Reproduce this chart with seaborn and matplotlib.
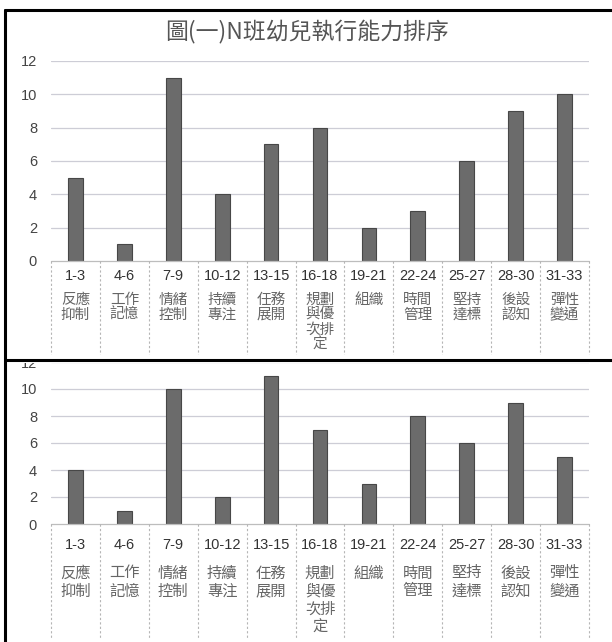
import matplotlib
matplotlib.use("Agg")
import matplotlib.pyplot as plt
from matplotlib.lines import Line2D
from matplotlib.patches import Rectangle
import matplotlib.transforms as mtransforms
import seaborn as sns
import pandas as pd

sns.set_theme(style="white")
plt.rcParams["font.family"] = ["Noto Sans CJK TC", "DejaVu Sans"]

# Categories (item ranges and ability names)
ranges = ["1-3", "4-6", "7-9", "10-12", "13-15", "16-18", "19-21",
          "22-24", "25-27", "28-30", "31-33"]
abilities = ["反應\n抑制", "工作\n記憶", "情緒\n控制", "持續\n專注", "任務\n展開",
             "規劃\n與優\n次排\n定", "組織", "時間\n管理", "堅持\n達標", "後設\n認知", "彈性\n變通"]

# Counts for the two charts
upper_counts = [5, 1, 11, 4, 7, 8, 2, 3, 6, 9, 10]
lower_counts = [4, 1, 10, 2, 11, 7, 3, 8, 6, 9, 5]
y_ticks = [0, 2, 4, 6, 8, 10, 12]

title = "圖(一)N班幼兒執行能力排序"

W, H = 612, 642
fig = plt.figure(figsize=(W / 100, H / 100), dpi=100)
fig.patch.set_facecolor("white")


def fx(px):
    return px / W


def fy(py):
    return 1 - py / H


def draw_chart(top_px, zero_px, table_bottom_px, counts, num_off, cn_off, cn_step,
               cn_size):
    left_px, right_px = 51, 589
    ax = fig.add_axes([fx(left_px), fy(zero_px), fx(right_px - left_px),
                       (zero_px - top_px) / H])
    df = pd.DataFrame({"range": ranges, "count": counts})
    sns.barplot(data=df, x="range", y="count", ax=ax, color="#6b6b6b",
                width=0.3, edgecolor="#474747", linewidth=0.8, saturation=1)
    ax.set_xlim(-0.5, len(ranges) - 0.5)
    ax.set_ylim(0, 12)
    ax.set_yticks(y_ticks)
    ax.set_yticklabels([str(t) for t in y_ticks], family=["Liberation Sans"],
                       fontsize=10.5, color="#444444")
    ax.tick_params(axis="y", length=0, pad=10)
    ax.set_xticks([])
    ax.set_xlabel("")
    ax.set_ylabel("")
    for s in ax.spines.values():
        s.set_visible(False)
    for t in y_ticks[1:]:
        ax.axhline(t, color="#cdcdd6", lw=0.9, zorder=0)

    # category table below the axis
    table_h = (table_bottom_px - zero_px) / (zero_px - top_px)
    trans = mtransforms.blended_transform_factory(ax.transData, ax.transAxes)
    ax.plot([-0.5, len(ranges) - 0.5], [0, 0], transform=trans, color="#bdbdbd",
            lw=0.9, clip_on=False)
    for i in range(len(ranges) + 1):
        ax.plot([i - 0.5, i - 0.5], [0, -table_h], transform=trans,
                color="#b5b5b5", lw=0.8, ls=(0, (2, 2)), clip_on=False)
    for i, (r, a) in enumerate(zip(ranges, abilities)):
        ax.annotate(r, xy=(i, 0), xycoords=trans, xytext=(0, -num_off * 0.72),
                    textcoords="offset points", ha="center", va="center",
                    fontsize=10.5, color="#333333", family=["Liberation Sans"])
        for k, line in enumerate(a.split("\n")):
            ax.annotate(line, xy=(i, 0), xycoords=trans,
                        xytext=(0, -(cn_off + k * cn_step) * 0.72),
                        textcoords="offset points", ha="center", va="center",
                        fontsize=cn_size, color="#666666")
    return ax


draw_chart(61, 261, 355, upper_counts, 15, 39, 15, 10.5)
draw_chart(362, 524, 638, lower_counts, 21, 49, 18, 11)

fig.text(fx(307), fy(32), title, ha="center", va="center", fontsize=16.5,
         color="#555555")

# frame lines of the page
fig.add_artist(Rectangle((0, fy(362.5)), 1, fy(355.5) - fy(362.5),
                         transform=fig.transFigure, facecolor="white",
                         edgecolor="none", zorder=5))
fig.add_artist(Line2D([fx(5), 1], [fy(10), fy(10)], color="black", lw=2.2, zorder=6))
fig.add_artist(Line2D([fx(5), fx(5)], [fy(10), 0], color="black", lw=2.2, zorder=6))
fig.add_artist(Line2D([fx(5), 1], [fy(360), fy(360)], color="black", lw=2.2, zorder=6))

fig.savefig("out.png", dpi=100, facecolor="white")
